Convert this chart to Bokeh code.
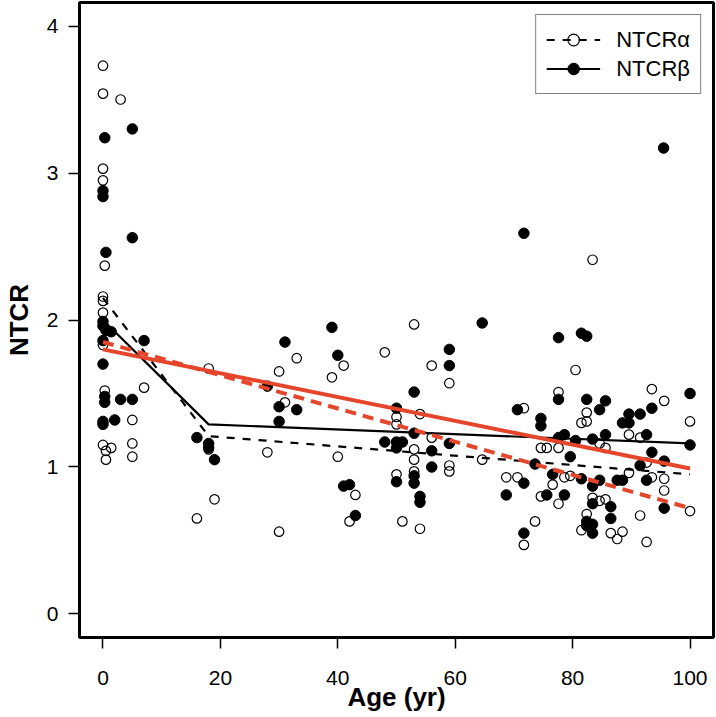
from bokeh.plotting import figure
from bokeh.models import Range1d, Legend, LegendItem, FixedTicker
from bokeh.embed import file_html
from bokeh.resources import INLINE

# ---- data ----
alpha_age = [0, 0, 3, 0, 0, 0.3, 0, 0, 0, 0, 0.3, 0, 1.4, 0.5, 0.5, 5, 5, 5, 7,
             18, 18, 19, 16, 28, 30, 33, 30, 31, 39, 40, 41, 43, 42, 48, 53, 56, 59,
             50, 54, 50, 56, 53, 53, 59, 59, 50, 53, 51, 54,
             83.4, 80.5, 77.6, 82.4, 81.5, 82.4, 71.7, 74.6, 75.6, 77.6, 64.6, 68.7,
             70.6, 78.6, 79.6, 76.6, 74.6, 77.6, 73.6, 71.7, 93.5, 95.6, 100, 89.6,
             91.5, 84.6, 85.6, 92.6, 93.5, 95.6, 89.6, 83.4, 84.6, 85.6, 95.6, 91.5,
             100, 86.5, 87.6, 88.5, 92.6, 82.4, 81.5]
alpha_val = [3.73, 3.54, 3.50, 3.03, 2.95, 2.37, 2.16, 2.13, 2.05, 1.83, 1.52, 1.15, 1.13, 1.11, 1.05, 1.16, 1.07, 1.32, 1.54,
             1.67, 1.12, 0.78, 0.65, 1.10, 0.56, 1.74, 1.65, 1.44, 1.61, 1.07, 1.69, 0.81, 0.63, 1.78, 1.97, 1.69, 1.57,
             1.34, 1.36, 1.29, 1.20, 1.12, 1.05, 1.01, 0.97, 0.95, 0.97, 0.63, 0.58,
             2.41, 1.66, 1.51, 1.37, 1.30, 1.31, 1.40, 1.13, 1.13, 1.13, 1.05, 0.93,
             0.93, 0.93, 0.94, 0.88, 0.80, 0.75, 0.63, 0.47, 1.53, 1.45, 1.31, 1.22,
             1.20, 1.16, 1.13, 1.03, 0.93, 0.92, 0.96, 0.79, 0.77, 0.78, 0.84, 0.67,
             0.70, 0.55, 0.51, 0.56, 0.49, 0.68, 0.57]

beta_age = [0.3, 5, 0, 0, 5, 0.5, 0, 0, 0.5, 1.4, 0, 7, 0, 0.3, 0.3, 3, 5, 0, 0, 2,
            16, 18, 18, 19, 28, 31, 30, 33, 30, 39, 40, 41, 42, 43, 53, 50, 53, 48, 50,
            51, 50, 56, 59, 56, 50, 53, 53, 54, 54, 59, 59,
            71.7, 64.6, 77.6, 81.5, 82.4, 77.6, 82.4, 85.6, 84.6, 70.6, 74.6, 74.6,
            77.6, 78.6, 80.5, 83.4, 85.6, 93.5, 89.6, 91.5, 88.5, 89.6, 100, 92.6,
            100, 93.5, 95.6, 91.5, 73.6, 79.6, 76.6, 71.7, 68.7, 75.6, 78.6, 81.5,
            83.4, 84.6, 87.6, 88.5, 92.6, 83.4, 86.5, 95.6, 86.5, 82.4, 83.4, 83.4,
            82.4, 71.7, 95.5]
beta_val = [3.24, 3.30, 2.88, 2.84, 2.56, 2.46, 1.99, 1.96, 1.93, 1.92, 1.86, 1.86, 1.70, 1.48, 1.44, 1.46, 1.46, 1.31, 1.29, 1.32,
            1.20, 1.16, 1.13, 1.05, 1.55, 1.85, 1.41, 1.39, 1.31, 1.95, 1.76, 0.87, 0.88, 0.67, 1.51, 1.40, 1.23, 1.17, 1.17,
            1.17, 1.13, 1.11, 1.16, 1.00, 0.90, 0.94, 0.89, 0.80, 0.76, 1.80, 1.69,
            2.59, 1.98, 1.88, 1.91, 1.89, 1.46, 1.46, 1.45, 1.39, 1.39, 1.33, 1.28,
            1.20, 1.22, 1.18, 1.19, 1.22, 1.40, 1.36, 1.36, 1.30, 1.30, 1.50, 1.22,
            1.15, 1.10, 1.04, 1.01, 1.02, 1.07, 0.95, 0.89, 0.81, 0.81, 0.81, 0.92,
            0.87, 0.91, 0.91, 0.91, 0.91, 0.75, 0.73, 0.72, 0.65, 0.63, 0.61, 0.55,
            0.60, 0.55, 3.17]

# group trend lines (black)
trend_age = [0, 18, 100]
alpha_trend = [2.15, 1.21, 0.95]
beta_trend = [2.00, 1.29, 1.16]

# linear fits (red)
fit_age = [0, 100]
alpha_fit = [1.85, 0.72]
beta_fit = [1.80, 0.99]

x_ticks = [0, 20, 40, 60, 80, 100]
y_ticks = [0, 1, 2, 3, 4]

RED = "#E5452B"
FONT = "Liberation Sans"

p = figure(width=716, height=717, output_backend="svg", toolbar_location=None,
           x_range=Range1d(-4, 104), y_range=Range1d(-0.16, 4.16))
p.min_border_left = 78
p.min_border_right = 3
p.min_border_top = 2
p.min_border_bottom = 80
p.background_fill_color = "white"
p.border_fill_color = "white"
p.outline_line_color = "black"
p.outline_line_width = 3
p.xgrid.visible = False
p.ygrid.visible = False

for ax in (p.xaxis[0], p.yaxis[0]):
    ax.axis_line_color = None
    ax.major_tick_in = 0
    ax.major_tick_out = 11
    ax.major_tick_line_color = "black"
    ax.major_tick_line_width = 1.5
    ax.minor_tick_line_color = None
    ax.major_label_text_font = FONT
    ax.major_label_text_font_size = "21px"
    ax.major_label_text_color = "black"
    ax.axis_label_text_font = FONT
    ax.axis_label_text_font_size = "26px"
    ax.axis_label_text_font_style = "bold"
    ax.axis_label_text_color = "black"

p.xaxis.ticker = FixedTicker(ticks=x_ticks)
p.yaxis.ticker = FixedTicker(ticks=y_ticks)
p.xaxis.axis_label = "Age (yr)"
p.yaxis.axis_label = "NTCR"
p.xaxis.major_label_standoff = 22
p.xaxis.axis_label_standoff = -6
p.yaxis.major_label_standoff = 10
p.yaxis.axis_label_standoff = 10

sa = p.scatter(alpha_age, alpha_val, size=9.5, marker="circle", fill_alpha=0,
               line_color="black", line_width=1.2)
sb = p.scatter(beta_age, beta_val, size=10.5, marker="circle", fill_color="black",
               line_color="black")

la = p.line(trend_age, alpha_trend, line_color="black", line_width=2.2, line_dash="8 8")
lb = p.line(trend_age, beta_trend, line_color="black", line_width=2.2)

p.line(fit_age, alpha_fit, line_color=RED, line_width=4, line_dash="11 7")
p.line(fit_age, beta_fit, line_color=RED, line_width=4)

legend = Legend(items=[
    LegendItem(label="NTCR\u03b1", renderers=[la, sa]),
    LegendItem(label="NTCR\u03b2", renderers=[lb, sb]),
], location="top_right")
legend.margin = 12
legend.padding = 10
legend.spacing = 0
legend.glyph_width = 54
legend.glyph_height = 29
legend.label_height = 29
legend.label_standoff = 16
legend.label_text_font = FONT
legend.label_text_font_size = "22px"
legend.label_text_color = "black"
legend.border_line_color = "black"
legend.border_line_width = 1.5
legend.background_fill_color = "white"
legend.background_fill_alpha = 1
p.add_layout(legend)

open("out.html", "w").write(file_html(p, INLINE))
